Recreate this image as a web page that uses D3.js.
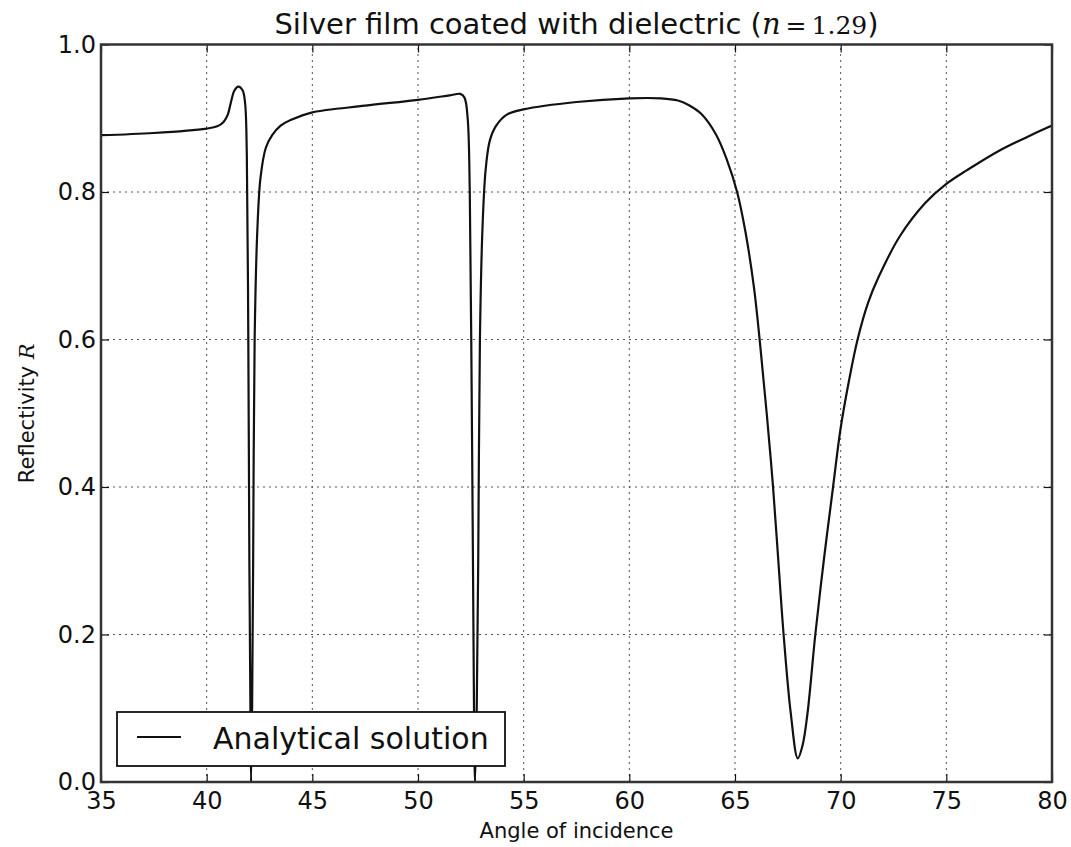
<!DOCTYPE html>
<html>
<head>
<meta charset="utf-8">
<script src="https://cdn.jsdelivr.net/npm/d3@7"></script>
<style>
  body { margin: 0; background: #fff; }
  svg { font-family: "DejaVu Sans", sans-serif; }
</style>
</head>
<body>
<div id="chart"></div>
<script>
// angle of incidence (deg) and reflectivity
const angles = [35, 37.5, 40, 40.5, 40.8, 41.0, 41.15, 41.3, 41.5, 41.7, 41.82, 41.9, 41.97, 42.02, 42.07, 42.1,
  42.15, 42.2, 42.27, 42.4, 42.55, 42.8, 43.1, 43.5, 44, 45, 47.5, 50, 51.5, 52, 52.2, 52.35, 52.45,
  52.52, 52.6, 52.65, 52.7, 52.78, 52.85, 52.93, 53.05, 53.2, 53.4, 53.7, 54.2, 55, 57.5, 60, 61.5,
  62.3, 62.8, 63.4, 64.1, 64.6, 65.1, 65.5, 65.9, 66.2, 66.5, 66.8, 67.05, 67.3, 67.64, 67.97, 68.2,
  68.43, 68.8, 69.2, 69.64, 70, 70.4, 70.8, 71.3, 71.8, 72.8, 74, 75, 76, 77.5, 79, 80];
const reflectivity = [0.877, 0.880, 0.886, 0.889, 0.895, 0.905, 0.922, 0.937, 0.943, 0.938, 0.92, 0.85, 0.6, 0.3, 0.1, 0.0,
  0.1, 0.3, 0.6, 0.75, 0.82, 0.86, 0.877, 0.89, 0.898, 0.908, 0.917, 0.925, 0.931, 0.933, 0.928, 0.9, 0.8,
  0.6, 0.3, 0.1, 0.0, 0.1, 0.3, 0.6, 0.75, 0.83, 0.87, 0.89, 0.905, 0.912, 0.922, 0.927, 0.927,
  0.924, 0.918, 0.906, 0.878, 0.845, 0.8, 0.745, 0.67, 0.59, 0.5, 0.4, 0.3, 0.2, 0.093, 0.032, 0.05,
  0.093, 0.2, 0.3, 0.4, 0.48, 0.545, 0.6, 0.65, 0.685, 0.74, 0.785, 0.811, 0.83, 0.856, 0.877, 0.89];
const xTicks = [35, 40, 45, 50, 55, 60, 65, 70, 75, 80];
const yTicks = [0.0, 0.2, 0.4, 0.6, 0.8, 1.0];
const seriesName = "Analytical solution";

const width = 1071, height = 847;
const margin = { top: 44.5, right: 19, bottom: 65, left: 101 };

const svg = d3.select("#chart").append("svg")
  .attr("width", width).attr("height", height);

const x = d3.scaleLinear().domain([35, 80]).range([margin.left, width - margin.right]);
const y = d3.scaleLinear().domain([0, 1]).range([height - margin.bottom, margin.top]);

svg.append("clipPath").attr("id", "plot-clip").append("rect")
  .attr("x", x(35)).attr("y", y(1)).attr("width", x(80) - x(35)).attr("height", y(0) - y(1));

// grid
const grid = svg.append("g").attr("stroke", "#555").attr("stroke-width", 1).attr("stroke-dasharray", "2,4");
grid.selectAll(".gx").data(xTicks.slice(1, -1)).join("line")
  .attr("x1", d => x(d)).attr("x2", d => x(d)).attr("y1", y(0)).attr("y2", y(1));
grid.selectAll(".gy").data(yTicks.slice(1, -1)).join("line")
  .attr("y1", d => y(d)).attr("y2", d => y(d)).attr("x1", x(35)).attr("x2", x(80));

// curve
const line = d3.line().x((d, i) => x(angles[i])).y(d => y(d)).curve(d3.curveCatmullRom.alpha(0.5));
svg.append("path").datum(reflectivity)
  .attr("clip-path", "url(#plot-clip)")
  .attr("d", line).attr("fill", "none").attr("stroke", "#111").attr("stroke-width", 2.2);

// axes (ticks pointing inward, like the classic matplotlib style)
const tl = 8;
const xb = svg.append("g").attr("transform", `translate(0,${y(0)})`)
  .call(d3.axisBottom(x).tickValues(xTicks).tickSize(-tl).tickPadding(10).tickFormat(d3.format("d")));
const xt = svg.append("g").attr("transform", `translate(0,${y(1)})`)
  .call(d3.axisTop(x).tickValues(xTicks).tickSize(-tl).tickFormat(""));
const yl = svg.append("g").attr("transform", `translate(${x(35)},0)`)
  .call(d3.axisLeft(y).tickValues(yTicks).tickSize(-tl).tickPadding(5).tickFormat(d3.format(".1f")));
const yr = svg.append("g").attr("transform", `translate(${x(80)},0)`)
  .call(d3.axisRight(y).tickValues(yTicks).tickSize(-tl).tickFormat(""));
[xb, xt, yl, yr].forEach(g => {
  g.select(".domain").remove();
  g.selectAll("line").attr("stroke", "#111").attr("stroke-width", 1.2);
  g.selectAll("text").attr("font-size", 24).attr("fill", "#111").attr("font-family", "DejaVu Sans, sans-serif");
});

// frame
svg.append("rect")
  .attr("x", x(35)).attr("y", y(1)).attr("width", x(80) - x(35)).attr("height", y(0) - y(1))
  .attr("fill", "none").attr("stroke", "#333").attr("stroke-width", 2.5);

// legend
const lg = svg.append("g").attr("transform", `translate(${x(35) + 16},${y(0) - 70})`);
lg.append("rect").attr("width", 388).attr("height", 54)
  .attr("fill", "#fff").attr("stroke", "#111").attr("stroke-width", 1.8);
lg.append("line").attr("x1", 20).attr("x2", 64).attr("y1", 25).attr("y2", 25)
  .attr("stroke", "#111").attr("stroke-width", 2);
lg.append("text").attr("x", 96).attr("y", 37).attr("font-size", 30).attr("fill", "#111").text(seriesName);

// title and labels
const title = svg.append("text").attr("x", (x(35) + x(80)) / 2).attr("y", 34)
  .attr("text-anchor", "middle").attr("font-size", 29).attr("fill", "#111");
title.append("tspan").text("Silver film coated with dielectric (");
title.append("tspan").attr("font-family", "DejaVu Serif, serif").attr("font-style", "italic").text("n");
title.append("tspan").attr("font-family", "DejaVu Serif, serif").attr("font-size", 25).text("\u2009=\u20091.29");
title.append("tspan").text(")");

svg.append("text").attr("x", (x(35) + x(80)) / 2).attr("y", 838)
  .attr("text-anchor", "middle").attr("font-size", 21).attr("fill", "#111").text("Angle of incidence");

const ylab = svg.append("text").attr("transform", `translate(34,${(y(0) + y(1)) / 2}) rotate(-90)`)
  .attr("text-anchor", "middle").attr("font-size", 21).attr("fill", "#111");
ylab.append("tspan").text("Reflectivity ");
ylab.append("tspan").attr("font-family", "DejaVu Serif, serif").attr("font-style", "italic").text("R");
</script>
</body>
</html>
